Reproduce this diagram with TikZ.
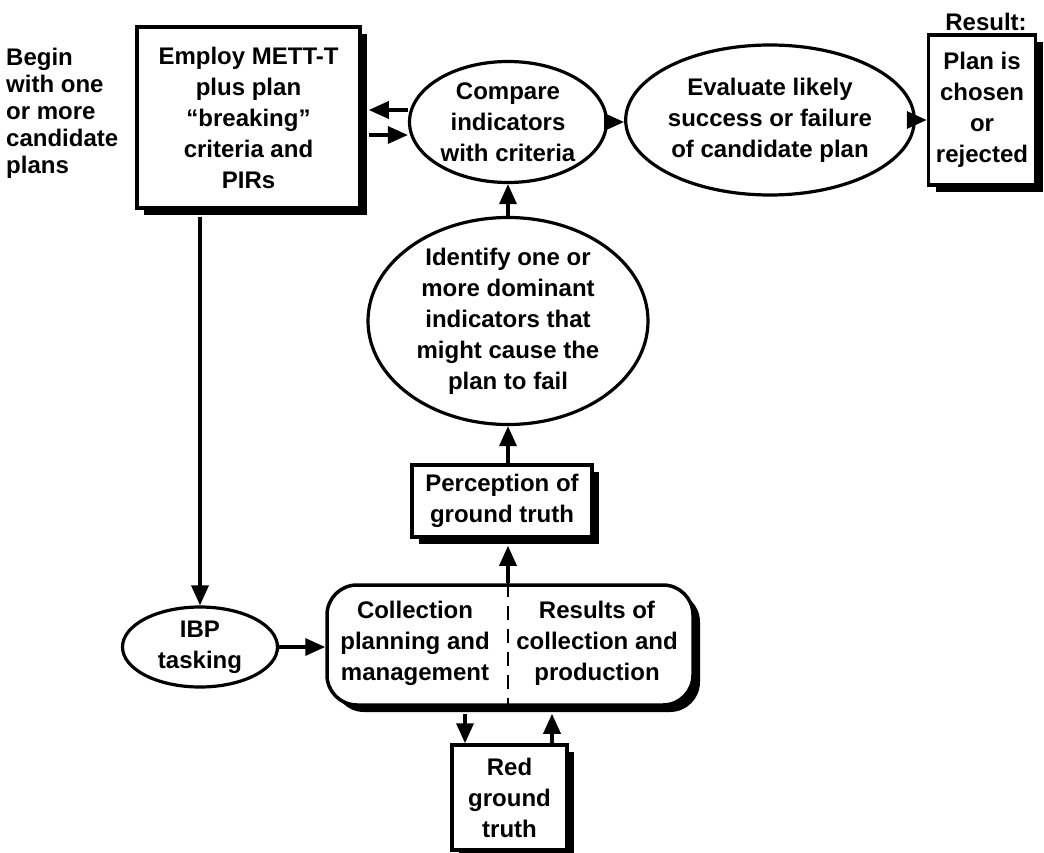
\documentclass[tikz,border=0pt]{standalone}
\usepackage{fontspec}
\setmainfont{Liberation Sans}
\usetikzlibrary{shapes.geometric,arrows.meta,shadows,calc}
\begin{document}
\begin{tikzpicture}[x=1pt,y=-1pt,
  txt/.style={font=\bfseries\fontsize{24}{31}\selectfont, align=center, inner sep=0pt},
  shad/.style={drop shadow={shadow xshift=7pt, shadow yshift=-7pt, fill=black, opacity=1}},
  box/.style={txt, draw, line width=3.5pt, fill=white, shad},
  oval/.style={txt, ellipse, draw, line width=3.2pt, fill=white},
  arr/.style={line width=3.4pt, -{Triangle[length=20pt,width=17pt]}},
  divider/.style={line width=2.4pt, dash pattern=on 14pt off 9pt}]
\useasboundingbox (0,0) rectangle (1044,853);

% top row
\node[txt, align=left, anchor=north west, font=\bfseries\fontsize{24}{27}\selectfont]
  (begin) at (6,48) {Begin\\with one\\or more\\candidate\\plans};
\node[box, minimum width=223pt, minimum height=181pt] (emp) at (248.5,117.5)
  {Employ METT-T\\plus plan\\“breaking”\\criteria and\\PIRs};
\node[oval, minimum width=197pt, minimum height=121pt] (cmp) at (508,122)
  {Compare\\indicators\\with criteria};
\node[oval, minimum width=249pt, minimum height=150pt] (eva) at (770,120)
  {Evaluate likely\\success or failure\\of candidate plan};
\node[box, minimum width=107pt, minimum height=150pt] (res) at (982,110)
  {Plan is\\chosen\\or\\rejected};
\node[txt, anchor=south] (reslbl) at (986,31) {Result:};

% middle column
\node[oval, minimum width=280pt, minimum height=198pt] (idf) at (508,321)
  {Identify one or\\more dominant\\indicators that\\might cause the\\plan to fail};
\node[box, minimum width=180pt, minimum height=72pt] (per) at (502,501)
  {Perception of\\ground truth};

% bottom row
\node[oval, minimum width=155pt, minimum height=80pt] (ibp) at (200,647)
  {IBP\\tasking};
\node[box, rounded corners=30pt, minimum width=366pt, minimum height=120pt] (col) at (510,645) {};
\node[txt] (colL) at (415,643) {Collection\\planning and\\management};
\node[txt] (colR) at (597,643) {Results of\\collection and\\production};
\node[box, minimum width=115pt, minimum height=105pt] (red) at (509.5,797.5)
  {Red\\ground\\truth};

% attachment points: shadow edges and connector columns
\coordinate (empS) at ($(emp.east)+(7,0)$);
\coordinate (perS) at ($(per.south)+(0,7)$);
\coordinate (midX) at (508,0);
\coordinate (downX) at (465,0);
\coordinate (upX) at (552,0);

% connectors
\draw[arr] (cmp.west |- 0,110) -- (empS |- 0,110);
\draw[arr] (empS |- 0,135) -- (cmp.west |- 0,135);
\draw[arr] (cmp.east) -- (cmp.east -| eva.west);
\draw[arr] (eva.east) -- (eva.east -| res.west);
\draw[arr] (midX |- idf.north) -- (midX |- cmp.south);
\draw[arr] (midX |- per.north) -- (midX |- idf.south);
\draw[divider] (midX |- col.north) -- (midX |- col.south);
\draw[arr] (midX |- col.north) -- (midX |- perS);
\draw[arr] ($(emp.south -| ibp.north)+(0,7)$) -- (ibp.north);
\draw[arr] (ibp.east) -- (ibp.east -| col.west);
\draw[arr] ($(downX |- col.south)+(0,7)$) -- (downX |- red.north);
\draw[arr] (upX |- red.north) -- ($(upX |- col.south)+(0,7)$);
\end{tikzpicture}
\end{document}
